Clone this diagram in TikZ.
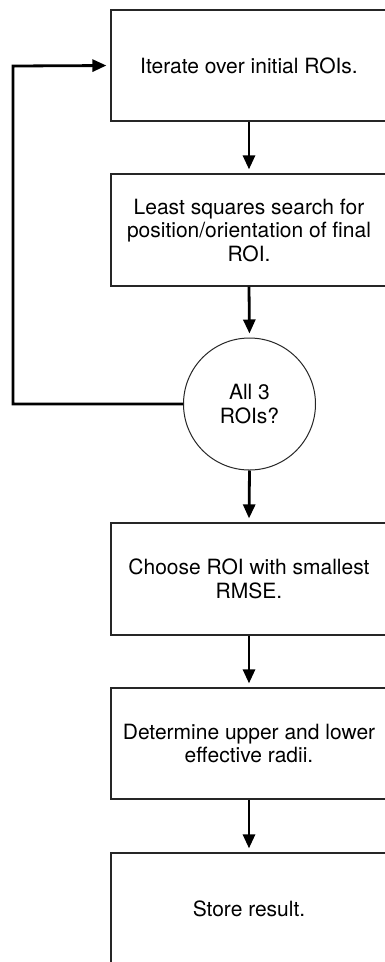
\documentclass[tikz,border=0pt]{standalone}
\usepackage{fontspec}
\setmainfont{TeX Gyre Heros}
\usetikzlibrary{arrows.meta}
\tikzset{
  procbox/.style={draw=black!85, line width=1.2pt, minimum width=276pt, inner sep=0pt,
    align=center, font=\fontsize{21}{23.5}\selectfont},
  decision/.style={draw=black!85, line width=1pt, circle, minimum size=132pt, inner sep=0pt,
    align=center, font=\fontsize{21}{23.5}\selectfont},
  flow/.style={line width=2.8pt, -{Triangle[width=12pt,length=14pt]}, shorten >=4pt}
}
\begin{document}
\begin{tikzpicture}[x=1pt,y=-1pt]
\useasboundingbox (0,0) rectangle (384,962);
\fill[white] (0,0) rectangle (384,962);
\node[procbox, minimum height=111pt] (b1) at (249,65.5) {Iterate over initial ROIs.};
\node[procbox, minimum height=112pt] (b2) at (249,230) {Least squares search for\\position/orientation of final\\ROI.};
\node[decision] (c) at (249.5,404) {All 3\\ROIs?};
\node[procbox, minimum height=112pt] (b3) at (249,579) {Choose ROI with smallest\\RMSE.};
\node[procbox, minimum height=111pt] (b4) at (249,743.5) {Determine upper and lower\\effective radii.};
\node[procbox, minimum height=111pt] (b5) at (249,908.5) {Store result.};
\draw[flow] (b1.south) -- (b2.north);
\draw[flow] (b2.south) -- (c.north);
\draw[flow] (c.south) -- (b3.north);
\draw[flow] (b3.south) -- (b4.north);
\draw[flow] (b4.south) -- (b5.north);
\coordinate (lb) at (13,404);
\coordinate (lt) at (13,66);
\draw[flow] (c.west) -- (lb) -- (lt) -- (b1.west);
\end{tikzpicture}
\end{document}
